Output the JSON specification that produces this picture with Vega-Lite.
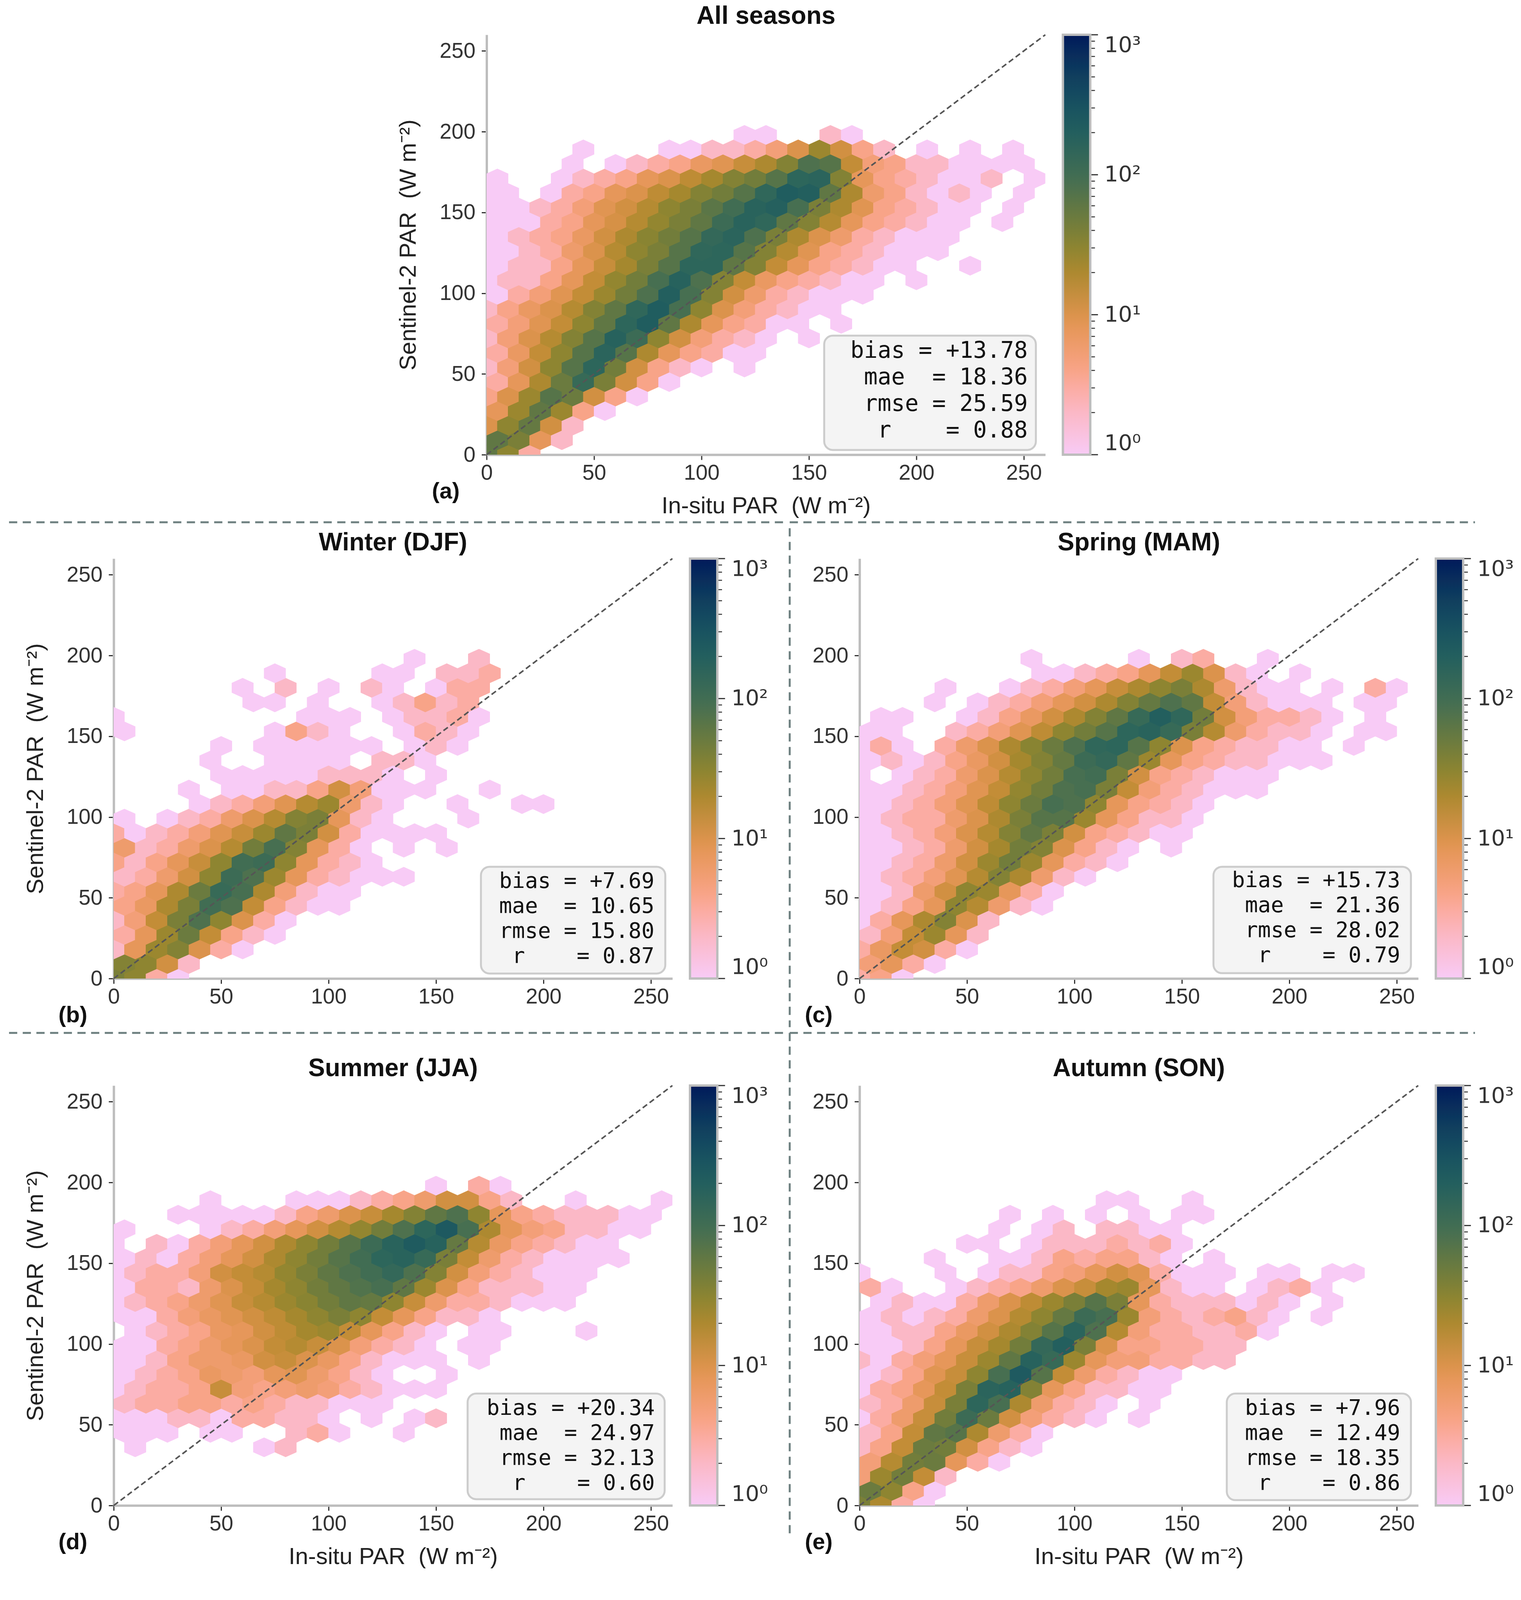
{
  "$schema": "https://vega.github.io/schema/vega-lite/v6.json",
  "background": "white",
  "padding": {"left": 20, "top": 9, "right": 0, "bottom": 0},
  "config": {
    "view": {"stroke": null},
    "font": "Liberation Sans",
    "range": {"ramp": ["#f8cbf6","#f9c2e2","#fbb8c6","#fbaea8","#f8a488","#f09d70","#e6975a","#d59145","#bf8c35","#a4882e","#8a8432","#737d3b","#5d7646","#486f51","#356958","#27625d","#1e5960","#174d60","#113f5e","#0b2d5c","#031a5a"]},
    "axis": {
      "domainColor": "#bdbdbd", "domainWidth": 6, "domainCap": "butt",
      "tickColor": "#333333", "tickWidth": 3, "tickSize": 13,
      "labelFont": "Liberation Sans", "labelFontSize": 55, "labelColor": "#333333",
      "labelFlush": false, "labelOverlap": false,
      "titleFont": "Liberation Sans", "titleFontSize": 60, "titleFontWeight": "normal", "titleColor": "#222222",
      "grid": false
    },
    "axisX": {"labelPadding": 7, "titlePadding": 28},
    "axisY": {"labelPadding": 16, "titlePadding": 48},
    "legend": {
      "gradientThickness": 70, "gradientLength": 1075,
      "gradientStrokeColor": "#bdbdbd", "gradientStrokeWidth": 6,
      "labelFont": "DejaVu Sans", "labelFontSize": 56, "labelColor": "#333333",
      "offset": 45, "padding": 0, "labelOverlap": false
    }
  },
  "datasets": {
    "cbmaj": [{"v":1,"y":0},{"v":10,"y":86.67},{"v":100,"y":173.33},{"v":1000,"y":260}],
    "cbmin": [
      {"v":2,"y":26.09},{"v":3,"y":41.35},{"v":4,"y":52.18},{"v":5,"y":60.58},{"v":6,"y":67.44},{"v":7,"y":73.24},{"v":8,"y":78.27},{"v":9,"y":82.7},
      {"v":20,"y":112.76},{"v":30,"y":128.02},{"v":40,"y":138.85},{"v":50,"y":147.25},{"v":60,"y":154.11},{"v":70,"y":159.91},{"v":80,"y":164.94},{"v":90,"y":169.37},
      {"v":200,"y":199.42},{"v":300,"y":214.68},{"v":400,"y":225.51},{"v":500,"y":233.91},{"v":600,"y":240.77},{"v":700,"y":246.57},{"v":800,"y":251.6},{"v":900,"y":256.03}
    ],
    "a": [
      {"x":0,"y":0,"n":60},{"x":10,"y":0,"n":30},{"x":20,"y":0,"n":3},
      {"x":5,"y":9,"n":60},{"x":15,"y":9,"n":40},{"x":25,"y":9,"n":8},{"x":35,"y":9,"n":2},
      {"x":0,"y":18,"n":10},{"x":10,"y":18,"n":30},{"x":20,"y":18,"n":55},{"x":30,"y":18,"n":12},{"x":40,"y":18,"n":2},
      {"x":5,"y":27,"n":8},{"x":15,"y":27,"n":25},{"x":25,"y":27,"n":60},{"x":35,"y":27,"n":25},{"x":45,"y":27,"n":4},{"x":55,"y":27,"n":1},
      {"x":0,"y":36,"n":4},{"x":10,"y":36,"n":10},{"x":20,"y":36,"n":25},{"x":30,"y":36,"n":70},{"x":40,"y":36,"n":50},{"x":50,"y":36,"n":12},{"x":60,"y":36,"n":4},{"x":70,"y":36,"n":1},
      {"x":5,"y":45,"n":3},{"x":15,"y":45,"n":8},{"x":25,"y":45,"n":20},{"x":35,"y":45,"n":50},{"x":45,"y":45,"n":120},{"x":55,"y":45,"n":40},{"x":65,"y":45,"n":12},{"x":75,"y":45,"n":4},{"x":85,"y":45,"n":1},
      {"x":0,"y":54,"n":2},{"x":10,"y":54,"n":5},{"x":20,"y":54,"n":12},{"x":30,"y":54,"n":30},{"x":40,"y":54,"n":70},{"x":50,"y":54,"n":150},{"x":60,"y":54,"n":45},{"x":70,"y":54,"n":12},{"x":80,"y":54,"n":4},{"x":90,"y":54,"n":2},{"x":100,"y":54,"n":1},{"x":120,"y":54,"n":1},
      {"x":5,"y":63,"n":3},{"x":15,"y":63,"n":7},{"x":25,"y":63,"n":15},{"x":35,"y":63,"n":30},{"x":45,"y":63,"n":70},{"x":55,"y":63,"n":160},{"x":65,"y":63,"n":70},{"x":75,"y":63,"n":20},{"x":85,"y":63,"n":8},{"x":95,"y":63,"n":4},{"x":105,"y":63,"n":3},{"x":115,"y":63,"n":1},{"x":125,"y":63,"n":1},
      {"x":0,"y":72,"n":2},{"x":10,"y":72,"n":5},{"x":20,"y":72,"n":10},{"x":30,"y":72,"n":18},{"x":40,"y":72,"n":35},{"x":50,"y":72,"n":70},{"x":60,"y":72,"n":180},{"x":70,"y":72,"n":110},{"x":80,"y":72,"n":30},{"x":90,"y":72,"n":12},{"x":100,"y":72,"n":5},{"x":110,"y":72,"n":3},{"x":120,"y":72,"n":2},{"x":130,"y":72,"n":1},{"x":150,"y":72,"n":1},
      {"x":5,"y":81,"n":3},{"x":15,"y":81,"n":5},{"x":25,"y":81,"n":9},{"x":35,"y":81,"n":15},{"x":45,"y":81,"n":30},{"x":55,"y":81,"n":60},{"x":65,"y":81,"n":150},{"x":75,"y":81,"n":220},{"x":85,"y":81,"n":60},{"x":95,"y":81,"n":20},{"x":105,"y":81,"n":8},{"x":115,"y":81,"n":4},{"x":125,"y":81,"n":3},{"x":135,"y":81,"n":1},{"x":145,"y":81,"n":1},{"x":165,"y":81,"n":1},
      {"x":0,"y":90,"n":2},{"x":10,"y":90,"n":4},{"x":20,"y":90,"n":7},{"x":30,"y":90,"n":10},{"x":40,"y":90,"n":18},{"x":50,"y":90,"n":35},{"x":60,"y":90,"n":60},{"x":70,"y":90,"n":140},{"x":80,"y":90,"n":220},{"x":90,"y":90,"n":90},{"x":100,"y":90,"n":30},{"x":110,"y":90,"n":10},{"x":120,"y":90,"n":5},{"x":130,"y":90,"n":3},{"x":140,"y":90,"n":2},{"x":150,"y":90,"n":1},{"x":160,"y":90,"n":1},
      {"x":5,"y":99,"n":1},{"x":15,"y":99,"n":3},{"x":25,"y":99,"n":5},{"x":35,"y":99,"n":9},{"x":45,"y":99,"n":15},{"x":55,"y":99,"n":25},{"x":65,"y":99,"n":45},{"x":75,"y":99,"n":80},{"x":85,"y":99,"n":200},{"x":95,"y":99,"n":90},{"x":105,"y":99,"n":35},{"x":115,"y":99,"n":12},{"x":125,"y":99,"n":6},{"x":135,"y":99,"n":3},{"x":145,"y":99,"n":2},{"x":155,"y":99,"n":1},{"x":165,"y":99,"n":1},{"x":175,"y":99,"n":1},
      {"x":0,"y":108,"n":1},{"x":10,"y":108,"n":2},{"x":20,"y":108,"n":2},{"x":30,"y":108,"n":4},{"x":40,"y":108,"n":8},{"x":50,"y":108,"n":15},{"x":60,"y":108,"n":28},{"x":70,"y":108,"n":45},{"x":80,"y":108,"n":90},{"x":90,"y":108,"n":180},{"x":100,"y":108,"n":80},{"x":110,"y":108,"n":35},{"x":120,"y":108,"n":15},{"x":130,"y":108,"n":7},{"x":140,"y":108,"n":4},{"x":150,"y":108,"n":3},{"x":160,"y":108,"n":2},{"x":170,"y":108,"n":1},{"x":180,"y":108,"n":1},{"x":200,"y":108,"n":1},
      {"x":5,"y":117,"n":1},{"x":15,"y":117,"n":2},{"x":25,"y":117,"n":2},{"x":35,"y":117,"n":4},{"x":45,"y":117,"n":8},{"x":55,"y":117,"n":14},{"x":65,"y":117,"n":22},{"x":75,"y":117,"n":40},{"x":85,"y":117,"n":70},{"x":95,"y":117,"n":150},{"x":105,"y":117,"n":150},{"x":115,"y":117,"n":60},{"x":125,"y":117,"n":35},{"x":135,"y":117,"n":15},{"x":145,"y":117,"n":8},{"x":155,"y":117,"n":4},{"x":165,"y":117,"n":3},{"x":175,"y":117,"n":2},{"x":185,"y":117,"n":1},{"x":195,"y":117,"n":1},{"x":225,"y":117,"n":1},
      {"x":0,"y":126,"n":1},{"x":10,"y":126,"n":1},{"x":20,"y":126,"n":2},{"x":30,"y":126,"n":3},{"x":40,"y":126,"n":6},{"x":50,"y":126,"n":10},{"x":60,"y":126,"n":18},{"x":70,"y":126,"n":30},{"x":80,"y":126,"n":40},{"x":90,"y":126,"n":70},{"x":100,"y":126,"n":140},{"x":110,"y":126,"n":150},{"x":120,"y":126,"n":70},{"x":130,"y":126,"n":35},{"x":140,"y":126,"n":18},{"x":150,"y":126,"n":9},{"x":160,"y":126,"n":4},{"x":170,"y":126,"n":3},{"x":180,"y":126,"n":2},{"x":190,"y":126,"n":1},{"x":200,"y":126,"n":1},{"x":210,"y":126,"n":1},
      {"x":5,"y":135,"n":1},{"x":15,"y":135,"n":2},{"x":25,"y":135,"n":3},{"x":35,"y":135,"n":4},{"x":45,"y":135,"n":7},{"x":55,"y":135,"n":12},{"x":65,"y":135,"n":20},{"x":75,"y":135,"n":32},{"x":85,"y":135,"n":45},{"x":95,"y":135,"n":70},{"x":105,"y":135,"n":130},{"x":115,"y":135,"n":160},{"x":125,"y":135,"n":80},{"x":135,"y":135,"n":40},{"x":145,"y":135,"n":20},{"x":155,"y":135,"n":10},{"x":165,"y":135,"n":6},{"x":175,"y":135,"n":3},{"x":185,"y":135,"n":2},{"x":195,"y":135,"n":1},{"x":205,"y":135,"n":1},{"x":215,"y":135,"n":1},
      {"x":0,"y":144,"n":1},{"x":10,"y":144,"n":1},{"x":20,"y":144,"n":1},{"x":30,"y":144,"n":3},{"x":40,"y":144,"n":4},{"x":50,"y":144,"n":8},{"x":60,"y":144,"n":11},{"x":70,"y":144,"n":18},{"x":80,"y":144,"n":28},{"x":90,"y":144,"n":40},{"x":100,"y":144,"n":60},{"x":110,"y":144,"n":110},{"x":120,"y":144,"n":170},{"x":130,"y":144,"n":140},{"x":140,"y":144,"n":60},{"x":150,"y":144,"n":35},{"x":160,"y":144,"n":18},{"x":170,"y":144,"n":8},{"x":180,"y":144,"n":4},{"x":190,"y":144,"n":3},{"x":200,"y":144,"n":2},{"x":210,"y":144,"n":1},{"x":220,"y":144,"n":1},{"x":240,"y":144,"n":1},
      {"x":5,"y":153,"n":1},{"x":15,"y":153,"n":1},{"x":25,"y":153,"n":2},{"x":35,"y":153,"n":3},{"x":45,"y":153,"n":5},{"x":55,"y":153,"n":9},{"x":65,"y":153,"n":12},{"x":75,"y":153,"n":18},{"x":85,"y":153,"n":30},{"x":95,"y":153,"n":40},{"x":105,"y":153,"n":65},{"x":115,"y":153,"n":100},{"x":125,"y":153,"n":170},{"x":135,"y":153,"n":190},{"x":145,"y":153,"n":90},{"x":155,"y":153,"n":40},{"x":165,"y":153,"n":20},{"x":175,"y":153,"n":9},{"x":185,"y":153,"n":4},{"x":195,"y":153,"n":3},{"x":205,"y":153,"n":2},{"x":215,"y":153,"n":1},{"x":225,"y":153,"n":1},{"x":245,"y":153,"n":1},
      {"x":0,"y":162,"n":1},{"x":10,"y":162,"n":1},{"x":30,"y":162,"n":1},{"x":40,"y":162,"n":3},{"x":50,"y":162,"n":4},{"x":60,"y":162,"n":8},{"x":70,"y":162,"n":10},{"x":80,"y":162,"n":16},{"x":90,"y":162,"n":22},{"x":100,"y":162,"n":35},{"x":110,"y":162,"n":45},{"x":120,"y":162,"n":70},{"x":130,"y":162,"n":140},{"x":140,"y":162,"n":220},{"x":150,"y":162,"n":200},{"x":160,"y":162,"n":60},{"x":170,"y":162,"n":20},{"x":180,"y":162,"n":6},{"x":190,"y":162,"n":4},{"x":200,"y":162,"n":2},{"x":210,"y":162,"n":1},{"x":220,"y":162,"n":2},{"x":230,"y":162,"n":1},{"x":250,"y":162,"n":1},
      {"x":5,"y":171,"n":1},{"x":35,"y":171,"n":1},{"x":45,"y":171,"n":2},{"x":55,"y":171,"n":3},{"x":65,"y":171,"n":4},{"x":75,"y":171,"n":8},{"x":85,"y":171,"n":10},{"x":95,"y":171,"n":16},{"x":105,"y":171,"n":22},{"x":115,"y":171,"n":35},{"x":125,"y":171,"n":45},{"x":135,"y":171,"n":70},{"x":145,"y":171,"n":150},{"x":155,"y":171,"n":160},{"x":165,"y":171,"n":35},{"x":175,"y":171,"n":8},{"x":185,"y":171,"n":4},{"x":195,"y":171,"n":3},{"x":205,"y":171,"n":2},{"x":215,"y":171,"n":1},{"x":225,"y":171,"n":1},{"x":235,"y":171,"n":2},{"x":255,"y":171,"n":1},
      {"x":40,"y":180,"n":1},{"x":60,"y":180,"n":1},{"x":70,"y":180,"n":2},{"x":80,"y":180,"n":3},{"x":90,"y":180,"n":4},{"x":100,"y":180,"n":7},{"x":110,"y":180,"n":9},{"x":120,"y":180,"n":14},{"x":130,"y":180,"n":20},{"x":140,"y":180,"n":35},{"x":150,"y":180,"n":80},{"x":160,"y":180,"n":70},{"x":170,"y":180,"n":15},{"x":180,"y":180,"n":5},{"x":190,"y":180,"n":4},{"x":200,"y":180,"n":2},{"x":210,"y":180,"n":2},{"x":220,"y":180,"n":1},{"x":230,"y":180,"n":1},{"x":240,"y":180,"n":1},{"x":250,"y":180,"n":1},
      {"x":45,"y":189,"n":1},{"x":85,"y":189,"n":1},{"x":95,"y":189,"n":1},{"x":105,"y":189,"n":2},{"x":115,"y":189,"n":2},{"x":125,"y":189,"n":3},{"x":135,"y":189,"n":5},{"x":145,"y":189,"n":10},{"x":155,"y":189,"n":25},{"x":165,"y":189,"n":12},{"x":175,"y":189,"n":4},{"x":185,"y":189,"n":2},{"x":205,"y":189,"n":1},{"x":225,"y":189,"n":1},{"x":245,"y":189,"n":1},
      {"x":120,"y":198,"n":1},{"x":130,"y":198,"n":1},{"x":160,"y":198,"n":2},{"x":170,"y":198,"n":1}
    ],
    "b": [
      {"x":0,"y":0,"n":40},{"x":10,"y":0,"n":30},{"x":20,"y":0,"n":3},{"x":30,"y":0,"n":1},
      {"x":5,"y":9,"n":35},{"x":15,"y":9,"n":30},{"x":25,"y":9,"n":12},{"x":35,"y":9,"n":2},
      {"x":0,"y":18,"n":2},{"x":10,"y":18,"n":8},{"x":20,"y":18,"n":25},{"x":30,"y":18,"n":35},{"x":40,"y":18,"n":10},{"x":50,"y":18,"n":3},{"x":60,"y":18,"n":1},
      {"x":5,"y":27,"n":3},{"x":15,"y":27,"n":8},{"x":25,"y":27,"n":25},{"x":35,"y":27,"n":50},{"x":45,"y":27,"n":15},{"x":55,"y":27,"n":4},{"x":65,"y":27,"n":2},{"x":75,"y":27,"n":1},
      {"x":0,"y":36,"n":2},{"x":10,"y":36,"n":5},{"x":20,"y":36,"n":15},{"x":30,"y":36,"n":40},{"x":40,"y":36,"n":80},{"x":50,"y":36,"n":30},{"x":60,"y":36,"n":10},{"x":70,"y":36,"n":3},{"x":80,"y":36,"n":1},
      {"x":5,"y":45,"n":4},{"x":15,"y":45,"n":7},{"x":25,"y":45,"n":20},{"x":35,"y":45,"n":40},{"x":45,"y":45,"n":100},{"x":55,"y":45,"n":80},{"x":65,"y":45,"n":15},{"x":75,"y":45,"n":4},{"x":85,"y":45,"n":2},{"x":95,"y":45,"n":1},{"x":105,"y":45,"n":1},
      {"x":0,"y":54,"n":3},{"x":10,"y":54,"n":4},{"x":20,"y":54,"n":8},{"x":30,"y":54,"n":20},{"x":40,"y":54,"n":50},{"x":50,"y":54,"n":120},{"x":60,"y":54,"n":90},{"x":70,"y":54,"n":20},{"x":80,"y":54,"n":5},{"x":90,"y":54,"n":2},{"x":100,"y":54,"n":1},{"x":110,"y":54,"n":1},
      {"x":5,"y":63,"n":2},{"x":15,"y":63,"n":3},{"x":25,"y":63,"n":6},{"x":35,"y":63,"n":12},{"x":45,"y":63,"n":30},{"x":55,"y":63,"n":110},{"x":65,"y":63,"n":80},{"x":75,"y":63,"n":25},{"x":85,"y":63,"n":8},{"x":95,"y":63,"n":3},{"x":105,"y":63,"n":2},{"x":115,"y":63,"n":1},{"x":125,"y":63,"n":1},{"x":135,"y":63,"n":1},
      {"x":0,"y":72,"n":4},{"x":10,"y":72,"n":2},{"x":20,"y":72,"n":4},{"x":30,"y":72,"n":8},{"x":40,"y":72,"n":14},{"x":50,"y":72,"n":30},{"x":60,"y":72,"n":100},{"x":70,"y":72,"n":110},{"x":80,"y":72,"n":30},{"x":90,"y":72,"n":8},{"x":100,"y":72,"n":3},{"x":110,"y":72,"n":2},{"x":120,"y":72,"n":1},
      {"x":5,"y":81,"n":6},{"x":15,"y":81,"n":2},{"x":25,"y":81,"n":3},{"x":35,"y":81,"n":6},{"x":45,"y":81,"n":10},{"x":55,"y":81,"n":18},{"x":65,"y":81,"n":45},{"x":75,"y":81,"n":90},{"x":85,"y":81,"n":35},{"x":95,"y":81,"n":8},{"x":105,"y":81,"n":3},{"x":115,"y":81,"n":1},{"x":135,"y":81,"n":1},{"x":155,"y":81,"n":1},
      {"x":0,"y":90,"n":3},{"x":10,"y":90,"n":1},{"x":20,"y":90,"n":2},{"x":30,"y":90,"n":3},{"x":40,"y":90,"n":5},{"x":50,"y":90,"n":9},{"x":60,"y":90,"n":14},{"x":70,"y":90,"n":25},{"x":80,"y":90,"n":60},{"x":90,"y":90,"n":40},{"x":100,"y":90,"n":12},{"x":110,"y":90,"n":3},{"x":120,"y":90,"n":1},{"x":130,"y":90,"n":1},{"x":140,"y":90,"n":1},{"x":150,"y":90,"n":1},
      {"x":5,"y":99,"n":1},{"x":25,"y":99,"n":1},{"x":35,"y":99,"n":2},{"x":45,"y":99,"n":3},{"x":55,"y":99,"n":6},{"x":65,"y":99,"n":10},{"x":75,"y":99,"n":18},{"x":85,"y":99,"n":35},{"x":95,"y":99,"n":40},{"x":105,"y":99,"n":8},{"x":115,"y":99,"n":2},{"x":125,"y":99,"n":1},{"x":165,"y":99,"n":1},
      {"x":40,"y":108,"n":1},{"x":50,"y":108,"n":2},{"x":60,"y":108,"n":3},{"x":70,"y":108,"n":5},{"x":80,"y":108,"n":9},{"x":90,"y":108,"n":18},{"x":100,"y":108,"n":25},{"x":110,"y":108,"n":6},{"x":120,"y":108,"n":2},{"x":130,"y":108,"n":1},{"x":160,"y":108,"n":1},{"x":190,"y":108,"n":1},{"x":200,"y":108,"n":1},
      {"x":35,"y":117,"n":1},{"x":55,"y":117,"n":1},{"x":65,"y":117,"n":1},{"x":75,"y":117,"n":2},{"x":85,"y":117,"n":2},{"x":95,"y":117,"n":4},{"x":105,"y":117,"n":12},{"x":115,"y":117,"n":5},{"x":125,"y":117,"n":1},{"x":135,"y":117,"n":1},{"x":145,"y":117,"n":1},{"x":175,"y":117,"n":1},
      {"x":50,"y":126,"n":1},{"x":60,"y":126,"n":1},{"x":70,"y":126,"n":1},{"x":80,"y":126,"n":1},{"x":90,"y":126,"n":1},{"x":100,"y":126,"n":2},{"x":110,"y":126,"n":2},{"x":120,"y":126,"n":2},{"x":130,"y":126,"n":1},{"x":150,"y":126,"n":1},
      {"x":45,"y":135,"n":1},{"x":75,"y":135,"n":1},{"x":85,"y":135,"n":1},{"x":95,"y":135,"n":1},{"x":105,"y":135,"n":1},{"x":125,"y":135,"n":2},{"x":135,"y":135,"n":2},{"x":145,"y":135,"n":1},
      {"x":50,"y":144,"n":1},{"x":70,"y":144,"n":1},{"x":80,"y":144,"n":1},{"x":90,"y":144,"n":1},{"x":100,"y":144,"n":1},{"x":110,"y":144,"n":1},{"x":120,"y":144,"n":1},{"x":140,"y":144,"n":1},{"x":150,"y":144,"n":2},{"x":160,"y":144,"n":1},
      {"x":5,"y":153,"n":1},{"x":75,"y":153,"n":1},{"x":85,"y":153,"n":4},{"x":95,"y":153,"n":2},{"x":105,"y":153,"n":1},{"x":135,"y":153,"n":1},{"x":145,"y":153,"n":3},{"x":155,"y":153,"n":2},{"x":165,"y":153,"n":1},
      {"x":0,"y":162,"n":1},{"x":90,"y":162,"n":1},{"x":100,"y":162,"n":1},{"x":110,"y":162,"n":1},{"x":130,"y":162,"n":1},{"x":140,"y":162,"n":2},{"x":150,"y":162,"n":2},{"x":160,"y":162,"n":3},{"x":170,"y":162,"n":1},
      {"x":65,"y":171,"n":1},{"x":75,"y":171,"n":1},{"x":95,"y":171,"n":1},{"x":125,"y":171,"n":1},{"x":135,"y":171,"n":2},{"x":145,"y":171,"n":4},{"x":155,"y":171,"n":2},{"x":165,"y":171,"n":3},
      {"x":60,"y":180,"n":1},{"x":80,"y":180,"n":2},{"x":100,"y":180,"n":1},{"x":120,"y":180,"n":2},{"x":130,"y":180,"n":1},{"x":150,"y":180,"n":1},{"x":160,"y":180,"n":3},{"x":170,"y":180,"n":3},
      {"x":75,"y":189,"n":1},{"x":125,"y":189,"n":1},{"x":135,"y":189,"n":1},{"x":155,"y":189,"n":2},{"x":165,"y":189,"n":2},{"x":175,"y":189,"n":3},
      {"x":140,"y":198,"n":1},{"x":170,"y":198,"n":2}
    ],
    "c": [
      {"x":0,"y":0,"n":3},{"x":10,"y":0,"n":4},{"x":20,"y":0,"n":1},
      {"x":5,"y":9,"n":5},{"x":15,"y":9,"n":8},{"x":25,"y":9,"n":3},{"x":35,"y":9,"n":1},
      {"x":0,"y":18,"n":3},{"x":10,"y":18,"n":7},{"x":20,"y":18,"n":15},{"x":30,"y":18,"n":12},{"x":40,"y":18,"n":3},{"x":50,"y":18,"n":1},
      {"x":5,"y":27,"n":2},{"x":15,"y":27,"n":5},{"x":25,"y":27,"n":15},{"x":35,"y":27,"n":25},{"x":45,"y":27,"n":8},{"x":55,"y":27,"n":2},
      {"x":0,"y":36,"n":1},{"x":10,"y":36,"n":3},{"x":20,"y":36,"n":8},{"x":30,"y":36,"n":20},{"x":40,"y":36,"n":35},{"x":50,"y":36,"n":10},{"x":60,"y":36,"n":2},
      {"x":5,"y":45,"n":1},{"x":15,"y":45,"n":2},{"x":25,"y":45,"n":4},{"x":35,"y":45,"n":8},{"x":45,"y":45,"n":30},{"x":55,"y":45,"n":18},{"x":65,"y":45,"n":6},{"x":75,"y":45,"n":2},{"x":85,"y":45,"n":1},
      {"x":0,"y":54,"n":1},{"x":10,"y":54,"n":1},{"x":20,"y":54,"n":2},{"x":30,"y":54,"n":6},{"x":40,"y":54,"n":12},{"x":50,"y":54,"n":30},{"x":60,"y":54,"n":25},{"x":70,"y":54,"n":8},{"x":80,"y":54,"n":3},{"x":90,"y":54,"n":1},
      {"x":5,"y":63,"n":1},{"x":15,"y":63,"n":2},{"x":25,"y":63,"n":3},{"x":35,"y":63,"n":5},{"x":45,"y":63,"n":9},{"x":55,"y":63,"n":18},{"x":65,"y":63,"n":35},{"x":75,"y":63,"n":20},{"x":85,"y":63,"n":6},{"x":95,"y":63,"n":2},{"x":105,"y":63,"n":1},
      {"x":0,"y":72,"n":1},{"x":10,"y":72,"n":1},{"x":20,"y":72,"n":2},{"x":30,"y":72,"n":3},{"x":40,"y":72,"n":6},{"x":50,"y":72,"n":12},{"x":60,"y":72,"n":25},{"x":70,"y":72,"n":45},{"x":80,"y":72,"n":25},{"x":90,"y":72,"n":8},{"x":100,"y":72,"n":3},{"x":110,"y":72,"n":2},{"x":120,"y":72,"n":1},
      {"x":5,"y":81,"n":1},{"x":15,"y":81,"n":1},{"x":25,"y":81,"n":2},{"x":35,"y":81,"n":3},{"x":45,"y":81,"n":6},{"x":55,"y":81,"n":12},{"x":65,"y":81,"n":22},{"x":75,"y":81,"n":45},{"x":85,"y":81,"n":35},{"x":95,"y":81,"n":10},{"x":105,"y":81,"n":4},{"x":115,"y":81,"n":2},{"x":125,"y":81,"n":1},{"x":145,"y":81,"n":1},
      {"x":0,"y":90,"n":1},{"x":10,"y":90,"n":1},{"x":20,"y":90,"n":2},{"x":30,"y":90,"n":3},{"x":40,"y":90,"n":5},{"x":50,"y":90,"n":10},{"x":60,"y":90,"n":18},{"x":70,"y":90,"n":35},{"x":80,"y":90,"n":60},{"x":90,"y":90,"n":40},{"x":100,"y":90,"n":12},{"x":110,"y":90,"n":4},{"x":120,"y":90,"n":3},{"x":130,"y":90,"n":2},{"x":140,"y":90,"n":1},{"x":150,"y":90,"n":1},
      {"x":5,"y":99,"n":1},{"x":15,"y":99,"n":2},{"x":25,"y":99,"n":3},{"x":35,"y":99,"n":3},{"x":45,"y":99,"n":6},{"x":55,"y":99,"n":10},{"x":65,"y":99,"n":20},{"x":75,"y":99,"n":40},{"x":85,"y":99,"n":70},{"x":95,"y":99,"n":70},{"x":105,"y":99,"n":25},{"x":115,"y":99,"n":8},{"x":125,"y":99,"n":4},{"x":135,"y":99,"n":2},{"x":145,"y":99,"n":2},{"x":155,"y":99,"n":1},
      {"x":0,"y":108,"n":1},{"x":10,"y":108,"n":1},{"x":20,"y":108,"n":2},{"x":30,"y":108,"n":3},{"x":40,"y":108,"n":5},{"x":50,"y":108,"n":9},{"x":60,"y":108,"n":16},{"x":70,"y":108,"n":30},{"x":80,"y":108,"n":50},{"x":90,"y":108,"n":90},{"x":100,"y":108,"n":80},{"x":110,"y":108,"n":30},{"x":120,"y":108,"n":8},{"x":130,"y":108,"n":4},{"x":140,"y":108,"n":3},{"x":150,"y":108,"n":2},{"x":160,"y":108,"n":1},
      {"x":5,"y":117,"n":1},{"x":15,"y":117,"n":1},{"x":25,"y":117,"n":2},{"x":35,"y":117,"n":3},{"x":45,"y":117,"n":5},{"x":55,"y":117,"n":9},{"x":65,"y":117,"n":15},{"x":75,"y":117,"n":28},{"x":85,"y":117,"n":45},{"x":95,"y":117,"n":80},{"x":105,"y":117,"n":90},{"x":115,"y":117,"n":40},{"x":125,"y":117,"n":15},{"x":135,"y":117,"n":5},{"x":145,"y":117,"n":3},{"x":155,"y":117,"n":2},{"x":165,"y":117,"n":1},{"x":175,"y":117,"n":1},{"x":185,"y":117,"n":1},
      {"x":0,"y":126,"n":1},{"x":20,"y":126,"n":1},{"x":30,"y":126,"n":2},{"x":40,"y":126,"n":3},{"x":50,"y":126,"n":6},{"x":60,"y":126,"n":10},{"x":70,"y":126,"n":18},{"x":80,"y":126,"n":30},{"x":90,"y":126,"n":45},{"x":100,"y":126,"n":90},{"x":110,"y":126,"n":100},{"x":120,"y":126,"n":40},{"x":130,"y":126,"n":12},{"x":140,"y":126,"n":4},{"x":150,"y":126,"n":3},{"x":160,"y":126,"n":2},{"x":170,"y":126,"n":1},{"x":180,"y":126,"n":1},{"x":190,"y":126,"n":1},
      {"x":5,"y":135,"n":1},{"x":15,"y":135,"n":2},{"x":25,"y":135,"n":1},{"x":35,"y":135,"n":2},{"x":45,"y":135,"n":4},{"x":55,"y":135,"n":7},{"x":65,"y":135,"n":12},{"x":75,"y":135,"n":22},{"x":85,"y":135,"n":35},{"x":95,"y":135,"n":55},{"x":105,"y":135,"n":110},{"x":115,"y":135,"n":130},{"x":125,"y":135,"n":60},{"x":135,"y":135,"n":25},{"x":145,"y":135,"n":8},{"x":155,"y":135,"n":4},{"x":165,"y":135,"n":3},{"x":175,"y":135,"n":2},{"x":185,"y":135,"n":2},{"x":195,"y":135,"n":1},{"x":205,"y":135,"n":1},{"x":215,"y":135,"n":1},
      {"x":0,"y":144,"n":1},{"x":10,"y":144,"n":3},{"x":20,"y":144,"n":1},{"x":40,"y":144,"n":3},{"x":50,"y":144,"n":6},{"x":60,"y":144,"n":10},{"x":70,"y":144,"n":20},{"x":80,"y":144,"n":32},{"x":90,"y":144,"n":50},{"x":100,"y":144,"n":80},{"x":110,"y":144,"n":140},{"x":120,"y":144,"n":150},{"x":130,"y":144,"n":70},{"x":140,"y":144,"n":30},{"x":150,"y":144,"n":10},{"x":160,"y":144,"n":4},{"x":170,"y":144,"n":3},{"x":180,"y":144,"n":2},{"x":190,"y":144,"n":2},{"x":200,"y":144,"n":1},{"x":210,"y":144,"n":1},{"x":230,"y":144,"n":1},
      {"x":5,"y":153,"n":1},{"x":15,"y":153,"n":1},{"x":45,"y":153,"n":2},{"x":55,"y":153,"n":3},{"x":65,"y":153,"n":5},{"x":75,"y":153,"n":9},{"x":85,"y":153,"n":16},{"x":95,"y":153,"n":30},{"x":105,"y":153,"n":45},{"x":115,"y":153,"n":70},{"x":125,"y":153,"n":150},{"x":135,"y":153,"n":170},{"x":145,"y":153,"n":120},{"x":155,"y":153,"n":40},{"x":165,"y":153,"n":18},{"x":175,"y":153,"n":6},{"x":185,"y":153,"n":3},{"x":195,"y":153,"n":2},{"x":205,"y":153,"n":2},{"x":215,"y":153,"n":1},{"x":235,"y":153,"n":1},{"x":245,"y":153,"n":1},
      {"x":10,"y":162,"n":1},{"x":20,"y":162,"n":1},{"x":50,"y":162,"n":1},{"x":60,"y":162,"n":2},{"x":70,"y":162,"n":4},{"x":80,"y":162,"n":7},{"x":90,"y":162,"n":12},{"x":100,"y":162,"n":20},{"x":110,"y":162,"n":35},{"x":120,"y":162,"n":60},{"x":130,"y":162,"n":120},{"x":140,"y":162,"n":200},{"x":150,"y":162,"n":140},{"x":160,"y":162,"n":45},{"x":170,"y":162,"n":12},{"x":180,"y":162,"n":5},{"x":190,"y":162,"n":3},{"x":200,"y":162,"n":3},{"x":210,"y":162,"n":2},{"x":220,"y":162,"n":1},{"x":240,"y":162,"n":1},
      {"x":35,"y":171,"n":1},{"x":55,"y":171,"n":1},{"x":65,"y":171,"n":2},{"x":75,"y":171,"n":3},{"x":85,"y":171,"n":5},{"x":95,"y":171,"n":8},{"x":105,"y":171,"n":12},{"x":115,"y":171,"n":20},{"x":125,"y":171,"n":35},{"x":135,"y":171,"n":55},{"x":145,"y":171,"n":80},{"x":155,"y":171,"n":60},{"x":165,"y":171,"n":15},{"x":175,"y":171,"n":5},{"x":185,"y":171,"n":2},{"x":195,"y":171,"n":1},{"x":205,"y":171,"n":1},{"x":215,"y":171,"n":1},{"x":235,"y":171,"n":1},{"x":245,"y":171,"n":1},
      {"x":40,"y":180,"n":1},{"x":70,"y":180,"n":1},{"x":80,"y":180,"n":2},{"x":90,"y":180,"n":3},{"x":100,"y":180,"n":5},{"x":110,"y":180,"n":8},{"x":120,"y":180,"n":14},{"x":130,"y":180,"n":20},{"x":140,"y":180,"n":30},{"x":150,"y":180,"n":40},{"x":160,"y":180,"n":20},{"x":170,"y":180,"n":6},{"x":180,"y":180,"n":2},{"x":190,"y":180,"n":1},{"x":200,"y":180,"n":1},{"x":220,"y":180,"n":1},{"x":240,"y":180,"n":3},{"x":250,"y":180,"n":1},
      {"x":85,"y":189,"n":1},{"x":95,"y":189,"n":1},{"x":105,"y":189,"n":2},{"x":115,"y":189,"n":3},{"x":125,"y":189,"n":4},{"x":135,"y":189,"n":8},{"x":145,"y":189,"n":15},{"x":155,"y":189,"n":25},{"x":165,"y":189,"n":10},{"x":175,"y":189,"n":2},{"x":185,"y":189,"n":1},{"x":205,"y":189,"n":1},
      {"x":80,"y":198,"n":1},{"x":130,"y":198,"n":1},{"x":150,"y":198,"n":2},{"x":160,"y":198,"n":3},{"x":190,"y":198,"n":1}
    ],
    "d": [
      {"x":10,"y":36,"n":1},{"x":70,"y":36,"n":1},{"x":80,"y":36,"n":2},
      {"x":5,"y":45,"n":1},{"x":15,"y":45,"n":1},{"x":25,"y":45,"n":1},{"x":45,"y":45,"n":1},{"x":55,"y":45,"n":1},{"x":85,"y":45,"n":2},{"x":95,"y":45,"n":3},{"x":105,"y":45,"n":1},{"x":135,"y":45,"n":1},
      {"x":0,"y":54,"n":1},{"x":10,"y":54,"n":1},{"x":20,"y":54,"n":1},{"x":30,"y":54,"n":2},{"x":40,"y":54,"n":2},{"x":50,"y":54,"n":1},{"x":60,"y":54,"n":3},{"x":70,"y":54,"n":3},{"x":80,"y":54,"n":2},{"x":90,"y":54,"n":2},{"x":100,"y":54,"n":1},{"x":120,"y":54,"n":1},{"x":140,"y":54,"n":1},{"x":150,"y":54,"n":2},
      {"x":5,"y":63,"n":2},{"x":15,"y":63,"n":3},{"x":25,"y":63,"n":3},{"x":35,"y":63,"n":4},{"x":45,"y":63,"n":4},{"x":55,"y":63,"n":3},{"x":65,"y":63,"n":4},{"x":75,"y":63,"n":3},{"x":85,"y":63,"n":2},{"x":95,"y":63,"n":2},{"x":105,"y":63,"n":1},{"x":115,"y":63,"n":1},{"x":125,"y":63,"n":1},
      {"x":0,"y":72,"n":1},{"x":10,"y":72,"n":2},{"x":20,"y":72,"n":3},{"x":30,"y":72,"n":3},{"x":40,"y":72,"n":4},{"x":50,"y":72,"n":14},{"x":60,"y":72,"n":5},{"x":70,"y":72,"n":4},{"x":80,"y":72,"n":5},{"x":90,"y":72,"n":6},{"x":100,"y":72,"n":5},{"x":110,"y":72,"n":3},{"x":120,"y":72,"n":2},{"x":130,"y":72,"n":1},{"x":140,"y":72,"n":1},{"x":150,"y":72,"n":1},
      {"x":5,"y":81,"n":1},{"x":15,"y":81,"n":2},{"x":25,"y":81,"n":3},{"x":35,"y":81,"n":4},{"x":45,"y":81,"n":7},{"x":55,"y":81,"n":6},{"x":65,"y":81,"n":5},{"x":75,"y":81,"n":8},{"x":85,"y":81,"n":9},{"x":95,"y":81,"n":6},{"x":105,"y":81,"n":4},{"x":115,"y":81,"n":2},{"x":125,"y":81,"n":1},{"x":155,"y":81,"n":1},
      {"x":0,"y":90,"n":1},{"x":10,"y":90,"n":1},{"x":20,"y":90,"n":2},{"x":30,"y":90,"n":4},{"x":40,"y":90,"n":6},{"x":50,"y":90,"n":6},{"x":60,"y":90,"n":7},{"x":70,"y":90,"n":12},{"x":80,"y":90,"n":14},{"x":90,"y":90,"n":10},{"x":100,"y":90,"n":7},{"x":110,"y":90,"n":4},{"x":120,"y":90,"n":2},{"x":130,"y":90,"n":1},{"x":140,"y":90,"n":1},{"x":150,"y":90,"n":1},{"x":170,"y":90,"n":1},
      {"x":5,"y":99,"n":1},{"x":15,"y":99,"n":1},{"x":25,"y":99,"n":3},{"x":35,"y":99,"n":4},{"x":45,"y":99,"n":6},{"x":55,"y":99,"n":8},{"x":65,"y":99,"n":10},{"x":75,"y":99,"n":15},{"x":85,"y":99,"n":18},{"x":95,"y":99,"n":14},{"x":105,"y":99,"n":10},{"x":115,"y":99,"n":5},{"x":125,"y":99,"n":3},{"x":135,"y":99,"n":2},{"x":145,"y":99,"n":1},{"x":165,"y":99,"n":1},{"x":175,"y":99,"n":1},
      {"x":10,"y":108,"n":1},{"x":20,"y":108,"n":2},{"x":30,"y":108,"n":3},{"x":40,"y":108,"n":4},{"x":50,"y":108,"n":7},{"x":60,"y":108,"n":8},{"x":70,"y":108,"n":12},{"x":80,"y":108,"n":16},{"x":90,"y":108,"n":22},{"x":100,"y":108,"n":25},{"x":110,"y":108,"n":15},{"x":120,"y":108,"n":8},{"x":130,"y":108,"n":4},{"x":140,"y":108,"n":2},{"x":150,"y":108,"n":1},{"x":170,"y":108,"n":1},{"x":180,"y":108,"n":1},{"x":220,"y":108,"n":1},
      {"x":5,"y":117,"n":1},{"x":15,"y":117,"n":1},{"x":25,"y":117,"n":3},{"x":35,"y":117,"n":5},{"x":45,"y":117,"n":7},{"x":55,"y":117,"n":9},{"x":65,"y":117,"n":12},{"x":75,"y":117,"n":16},{"x":85,"y":117,"n":22},{"x":95,"y":117,"n":30},{"x":105,"y":117,"n":40},{"x":115,"y":117,"n":30},{"x":125,"y":117,"n":15},{"x":135,"y":117,"n":8},{"x":145,"y":117,"n":4},{"x":155,"y":117,"n":2},{"x":165,"y":117,"n":2},{"x":175,"y":117,"n":1},
      {"x":0,"y":126,"n":1},{"x":10,"y":126,"n":2},{"x":20,"y":126,"n":3},{"x":30,"y":126,"n":4},{"x":40,"y":126,"n":6},{"x":50,"y":126,"n":9},{"x":60,"y":126,"n":14},{"x":70,"y":126,"n":18},{"x":80,"y":126,"n":25},{"x":90,"y":126,"n":32},{"x":100,"y":126,"n":45},{"x":110,"y":126,"n":60},{"x":120,"y":126,"n":55},{"x":130,"y":126,"n":30},{"x":140,"y":126,"n":14},{"x":150,"y":126,"n":6},{"x":160,"y":126,"n":3},{"x":170,"y":126,"n":3},{"x":180,"y":126,"n":2},{"x":190,"y":126,"n":1},{"x":200,"y":126,"n":1},{"x":210,"y":126,"n":1},
      {"x":5,"y":135,"n":1},{"x":15,"y":135,"n":3},{"x":25,"y":135,"n":3},{"x":35,"y":135,"n":2},{"x":45,"y":135,"n":6},{"x":55,"y":135,"n":10},{"x":65,"y":135,"n":15},{"x":75,"y":135,"n":22},{"x":85,"y":135,"n":30},{"x":95,"y":135,"n":45},{"x":105,"y":135,"n":60},{"x":115,"y":135,"n":75},{"x":125,"y":135,"n":90},{"x":135,"y":135,"n":60},{"x":145,"y":135,"n":25},{"x":155,"y":135,"n":10},{"x":165,"y":135,"n":4},{"x":175,"y":135,"n":2},{"x":185,"y":135,"n":2},{"x":195,"y":135,"n":2},{"x":205,"y":135,"n":1},{"x":215,"y":135,"n":1},
      {"x":0,"y":144,"n":1},{"x":10,"y":144,"n":2},{"x":20,"y":144,"n":3},{"x":30,"y":144,"n":3},{"x":40,"y":144,"n":5},{"x":50,"y":144,"n":12},{"x":60,"y":144,"n":15},{"x":70,"y":144,"n":18},{"x":80,"y":144,"n":28},{"x":90,"y":144,"n":40},{"x":100,"y":144,"n":60},{"x":110,"y":144,"n":80},{"x":120,"y":144,"n":100},{"x":130,"y":144,"n":130},{"x":140,"y":144,"n":80},{"x":150,"y":144,"n":35},{"x":160,"y":144,"n":12},{"x":170,"y":144,"n":5},{"x":180,"y":144,"n":3},{"x":190,"y":144,"n":2},{"x":200,"y":144,"n":1},{"x":210,"y":144,"n":1},{"x":220,"y":144,"n":1},
      {"x":5,"y":153,"n":1},{"x":15,"y":153,"n":2},{"x":25,"y":153,"n":1},{"x":35,"y":153,"n":3},{"x":45,"y":153,"n":5},{"x":55,"y":153,"n":8},{"x":65,"y":153,"n":12},{"x":75,"y":153,"n":20},{"x":85,"y":153,"n":30},{"x":95,"y":153,"n":45},{"x":105,"y":153,"n":70},{"x":115,"y":153,"n":100},{"x":125,"y":153,"n":150},{"x":135,"y":153,"n":170},{"x":145,"y":153,"n":120},{"x":155,"y":153,"n":40},{"x":165,"y":153,"n":15},{"x":175,"y":153,"n":6},{"x":185,"y":153,"n":3},{"x":195,"y":153,"n":2},{"x":205,"y":153,"n":1},{"x":215,"y":153,"n":1},{"x":225,"y":153,"n":1},{"x":235,"y":153,"n":1},
      {"x":0,"y":162,"n":1},{"x":20,"y":162,"n":2},{"x":30,"y":162,"n":1},{"x":40,"y":162,"n":3},{"x":50,"y":162,"n":5},{"x":60,"y":162,"n":8},{"x":70,"y":162,"n":12},{"x":80,"y":162,"n":20},{"x":90,"y":162,"n":30},{"x":100,"y":162,"n":45},{"x":110,"y":162,"n":70},{"x":120,"y":162,"n":110},{"x":130,"y":162,"n":170},{"x":140,"y":162,"n":230},{"x":150,"y":162,"n":180},{"x":160,"y":162,"n":55},{"x":170,"y":162,"n":18},{"x":180,"y":162,"n":7},{"x":190,"y":162,"n":4},{"x":200,"y":162,"n":3},{"x":210,"y":162,"n":2},{"x":220,"y":162,"n":1},{"x":230,"y":162,"n":1},
      {"x":5,"y":171,"n":1},{"x":45,"y":171,"n":1},{"x":55,"y":171,"n":2},{"x":65,"y":171,"n":3},{"x":75,"y":171,"n":5},{"x":85,"y":171,"n":8},{"x":95,"y":171,"n":12},{"x":105,"y":171,"n":18},{"x":115,"y":171,"n":28},{"x":125,"y":171,"n":45},{"x":135,"y":171,"n":80},{"x":145,"y":171,"n":150},{"x":155,"y":171,"n":250},{"x":165,"y":171,"n":90},{"x":175,"y":171,"n":20},{"x":185,"y":171,"n":8},{"x":195,"y":171,"n":5},{"x":205,"y":171,"n":4},{"x":215,"y":171,"n":2},{"x":225,"y":171,"n":2},{"x":235,"y":171,"n":1},{"x":245,"y":171,"n":1},
      {"x":30,"y":180,"n":1},{"x":40,"y":180,"n":1},{"x":50,"y":180,"n":1},{"x":60,"y":180,"n":1},{"x":70,"y":180,"n":1},{"x":80,"y":180,"n":2},{"x":90,"y":180,"n":4},{"x":100,"y":180,"n":6},{"x":110,"y":180,"n":10},{"x":120,"y":180,"n":14},{"x":130,"y":180,"n":22},{"x":140,"y":180,"n":35},{"x":150,"y":180,"n":60},{"x":160,"y":180,"n":80},{"x":170,"y":180,"n":30},{"x":180,"y":180,"n":8},{"x":190,"y":180,"n":4},{"x":200,"y":180,"n":3},{"x":210,"y":180,"n":2},{"x":220,"y":180,"n":2},{"x":230,"y":180,"n":2},{"x":240,"y":180,"n":1},{"x":250,"y":180,"n":1},
      {"x":45,"y":189,"n":1},{"x":85,"y":189,"n":1},{"x":95,"y":189,"n":1},{"x":105,"y":189,"n":1},{"x":115,"y":189,"n":2},{"x":125,"y":189,"n":3},{"x":135,"y":189,"n":4},{"x":145,"y":189,"n":6},{"x":155,"y":189,"n":12},{"x":165,"y":189,"n":12},{"x":175,"y":189,"n":4},{"x":185,"y":189,"n":2},{"x":215,"y":189,"n":1},{"x":255,"y":189,"n":1},
      {"x":150,"y":198,"n":1},{"x":170,"y":198,"n":3},{"x":180,"y":198,"n":1}
    ],
    "e": [
      {"x":0,"y":0,"n":40},{"x":10,"y":0,"n":20},{"x":20,"y":0,"n":3},{"x":30,"y":0,"n":1},
      {"x":5,"y":9,"n":50},{"x":15,"y":9,"n":30},{"x":25,"y":9,"n":4},{"x":35,"y":9,"n":1},
      {"x":0,"y":18,"n":5},{"x":10,"y":18,"n":25},{"x":20,"y":18,"n":45},{"x":30,"y":18,"n":15},{"x":40,"y":18,"n":2},
      {"x":5,"y":27,"n":5},{"x":15,"y":27,"n":18},{"x":25,"y":27,"n":45},{"x":35,"y":27,"n":50},{"x":45,"y":27,"n":8},{"x":55,"y":27,"n":3},{"x":65,"y":27,"n":1},
      {"x":0,"y":36,"n":2},{"x":10,"y":36,"n":4},{"x":20,"y":36,"n":15},{"x":30,"y":36,"n":50},{"x":40,"y":36,"n":45},{"x":50,"y":36,"n":12},{"x":60,"y":36,"n":4},{"x":70,"y":36,"n":2},{"x":80,"y":36,"n":1},
      {"x":5,"y":45,"n":2},{"x":15,"y":45,"n":4},{"x":25,"y":45,"n":15},{"x":35,"y":45,"n":60},{"x":45,"y":45,"n":70},{"x":55,"y":45,"n":20},{"x":65,"y":45,"n":6},{"x":75,"y":45,"n":3},{"x":85,"y":45,"n":1},
      {"x":0,"y":54,"n":1},{"x":10,"y":54,"n":3},{"x":20,"y":54,"n":6},{"x":30,"y":54,"n":14},{"x":40,"y":54,"n":45},{"x":50,"y":54,"n":110},{"x":60,"y":54,"n":50},{"x":70,"y":54,"n":12},{"x":80,"y":54,"n":5},{"x":90,"y":54,"n":3},{"x":100,"y":54,"n":2},{"x":110,"y":54,"n":1},{"x":130,"y":54,"n":1},
      {"x":5,"y":63,"n":2},{"x":15,"y":63,"n":3},{"x":25,"y":63,"n":6},{"x":35,"y":63,"n":14},{"x":45,"y":63,"n":40},{"x":55,"y":63,"n":150},{"x":65,"y":63,"n":90},{"x":75,"y":63,"n":20},{"x":85,"y":63,"n":6},{"x":95,"y":63,"n":3},{"x":105,"y":63,"n":2},{"x":115,"y":63,"n":1},{"x":135,"y":63,"n":1},
      {"x":0,"y":72,"n":1},{"x":10,"y":72,"n":3},{"x":20,"y":72,"n":4},{"x":30,"y":72,"n":8},{"x":40,"y":72,"n":15},{"x":50,"y":72,"n":40},{"x":60,"y":72,"n":160},{"x":70,"y":72,"n":180},{"x":80,"y":72,"n":35},{"x":90,"y":72,"n":8},{"x":100,"y":72,"n":4},{"x":110,"y":72,"n":2},{"x":120,"y":72,"n":2},{"x":130,"y":72,"n":1},{"x":140,"y":72,"n":1},
      {"x":5,"y":81,"n":1},{"x":15,"y":81,"n":2},{"x":25,"y":81,"n":4},{"x":35,"y":81,"n":9},{"x":45,"y":81,"n":14},{"x":55,"y":81,"n":30},{"x":65,"y":81,"n":90},{"x":75,"y":81,"n":240},{"x":85,"y":81,"n":70},{"x":95,"y":81,"n":15},{"x":105,"y":81,"n":6},{"x":115,"y":81,"n":3},{"x":125,"y":81,"n":2},{"x":135,"y":81,"n":1},{"x":145,"y":81,"n":1},
      {"x":0,"y":90,"n":2},{"x":10,"y":90,"n":1},{"x":20,"y":90,"n":3},{"x":30,"y":90,"n":5},{"x":40,"y":90,"n":8},{"x":50,"y":90,"n":14},{"x":60,"y":90,"n":25},{"x":70,"y":90,"n":60},{"x":80,"y":90,"n":180},{"x":90,"y":90,"n":120},{"x":100,"y":90,"n":25},{"x":110,"y":90,"n":8},{"x":120,"y":90,"n":5},{"x":130,"y":90,"n":5},{"x":140,"y":90,"n":3},{"x":150,"y":90,"n":3},{"x":160,"y":90,"n":2},{"x":170,"y":90,"n":2},
      {"x":5,"y":99,"n":1},{"x":15,"y":99,"n":1},{"x":25,"y":99,"n":2},{"x":35,"y":99,"n":4},{"x":45,"y":99,"n":8},{"x":55,"y":99,"n":14},{"x":65,"y":99,"n":22},{"x":75,"y":99,"n":45},{"x":85,"y":99,"n":130},{"x":95,"y":99,"n":200},{"x":105,"y":99,"n":40},{"x":115,"y":99,"n":10},{"x":125,"y":99,"n":4},{"x":135,"y":99,"n":4},{"x":145,"y":99,"n":3},{"x":155,"y":99,"n":3},{"x":165,"y":99,"n":2},{"x":175,"y":99,"n":2},
      {"x":0,"y":108,"n":1},{"x":10,"y":108,"n":1},{"x":20,"y":108,"n":2},{"x":30,"y":108,"n":2},{"x":40,"y":108,"n":4},{"x":50,"y":108,"n":7},{"x":60,"y":108,"n":12},{"x":70,"y":108,"n":20},{"x":80,"y":108,"n":35},{"x":90,"y":108,"n":70},{"x":100,"y":108,"n":160},{"x":110,"y":108,"n":80},{"x":120,"y":108,"n":18},{"x":130,"y":108,"n":5},{"x":140,"y":108,"n":3},{"x":150,"y":108,"n":3},{"x":160,"y":108,"n":2},{"x":170,"y":108,"n":2},{"x":180,"y":108,"n":3},{"x":190,"y":108,"n":1},
      {"x":5,"y":117,"n":1},{"x":15,"y":117,"n":2},{"x":25,"y":117,"n":1},{"x":35,"y":117,"n":2},{"x":45,"y":117,"n":3},{"x":55,"y":117,"n":6},{"x":65,"y":117,"n":10},{"x":75,"y":117,"n":18},{"x":85,"y":117,"n":30},{"x":95,"y":117,"n":55},{"x":105,"y":117,"n":110},{"x":115,"y":117,"n":90},{"x":125,"y":117,"n":25},{"x":135,"y":117,"n":5},{"x":145,"y":117,"n":3},{"x":155,"y":117,"n":2},{"x":165,"y":117,"n":3},{"x":175,"y":117,"n":4},{"x":185,"y":117,"n":2},{"x":195,"y":117,"n":1},{"x":215,"y":117,"n":1},
      {"x":10,"y":126,"n":1},{"x":20,"y":126,"n":2},{"x":30,"y":126,"n":1},{"x":40,"y":126,"n":1},{"x":50,"y":126,"n":3},{"x":60,"y":126,"n":6},{"x":70,"y":126,"n":10},{"x":80,"y":126,"n":16},{"x":90,"y":126,"n":25},{"x":100,"y":126,"n":40},{"x":110,"y":126,"n":70},{"x":120,"y":126,"n":40},{"x":130,"y":126,"n":8},{"x":140,"y":126,"n":3},{"x":150,"y":126,"n":2},{"x":160,"y":126,"n":2},{"x":170,"y":126,"n":2},{"x":180,"y":126,"n":1},{"x":190,"y":126,"n":2},{"x":200,"y":126,"n":1},{"x":220,"y":126,"n":1},
      {"x":5,"y":135,"n":3},{"x":15,"y":135,"n":1},{"x":45,"y":135,"n":1},{"x":55,"y":135,"n":2},{"x":65,"y":135,"n":3},{"x":75,"y":135,"n":4},{"x":85,"y":135,"n":6},{"x":95,"y":135,"n":10},{"x":105,"y":135,"n":14},{"x":115,"y":135,"n":22},{"x":125,"y":135,"n":25},{"x":135,"y":135,"n":8},{"x":145,"y":135,"n":2},{"x":155,"y":135,"n":1},{"x":165,"y":135,"n":1},{"x":185,"y":135,"n":1},{"x":195,"y":135,"n":2},{"x":205,"y":135,"n":3},{"x":215,"y":135,"n":1},
      {"x":0,"y":144,"n":1},{"x":40,"y":144,"n":1},{"x":60,"y":144,"n":1},{"x":70,"y":144,"n":2},{"x":80,"y":144,"n":2},{"x":90,"y":144,"n":4},{"x":100,"y":144,"n":5},{"x":110,"y":144,"n":8},{"x":120,"y":144,"n":12},{"x":130,"y":144,"n":9},{"x":140,"y":144,"n":3},{"x":150,"y":144,"n":1},{"x":160,"y":144,"n":1},{"x":170,"y":144,"n":1},{"x":190,"y":144,"n":1},{"x":200,"y":144,"n":1},{"x":220,"y":144,"n":1},{"x":230,"y":144,"n":1},
      {"x":35,"y":153,"n":1},{"x":65,"y":153,"n":1},{"x":75,"y":153,"n":1},{"x":85,"y":153,"n":2},{"x":95,"y":153,"n":4},{"x":105,"y":153,"n":3},{"x":115,"y":153,"n":4},{"x":125,"y":153,"n":4},{"x":135,"y":153,"n":2},{"x":145,"y":153,"n":1},{"x":165,"y":153,"n":1},
      {"x":50,"y":162,"n":1},{"x":60,"y":162,"n":1},{"x":80,"y":162,"n":1},{"x":90,"y":162,"n":2},{"x":100,"y":162,"n":2},{"x":110,"y":162,"n":2},{"x":120,"y":162,"n":3},{"x":130,"y":162,"n":2},{"x":140,"y":162,"n":3},{"x":150,"y":162,"n":1},
      {"x":65,"y":171,"n":1},{"x":85,"y":171,"n":1},{"x":95,"y":171,"n":2},{"x":115,"y":171,"n":2},{"x":125,"y":171,"n":2},{"x":135,"y":171,"n":1},{"x":145,"y":171,"n":1},
      {"x":70,"y":180,"n":1},{"x":90,"y":180,"n":1},{"x":110,"y":180,"n":1},{"x":130,"y":180,"n":1},{"x":150,"y":180,"n":1},{"x":160,"y":180,"n":1},
      {"x":115,"y":189,"n":1},{"x":125,"y":189,"n":1},{"x":155,"y":189,"n":1}
    ]
  },
  "spacing": 9,
  "center": true,
  "resolve": {"scale": {"color": "independent"}, "legend": {"color": "independent"}},
  "vconcat": [
    {
      "width": 1430, "height": 1075,
      "layer": [
        {"data": {"name": "a"},
         "mark": {"type": "point", "shape": "M0,-0.9L1,-0.45L1,0.45L0,0.9L-1,0.45L-1,-0.45Z", "filled": true, "size": 3136, "opacity": 1, "strokeWidth": 0, "clip": true},
         "encoding": {
           "x": {"field": "x", "type": "quantitative", "scale": {"domain": [0, 260], "nice": false, "zero": false}, "axis": {"values": [0, 50, 100, 150, 200, 250], "title": "In-situ PAR\u00a0\u00a0(W m⁻²)"}},
           "y": {"field": "y", "type": "quantitative", "scale": {"domain": [0, 260], "nice": false, "zero": false}, "axis": {"values": [0, 50, 100, 150, 200, 250], "title": "Sentinel-2 PAR\u00a0\u00a0(W m⁻²)"}},
           "color": {"field": "n", "type": "quantitative", "scale": {"type": "log", "domain": [1, 1000]}, "legend": {"title": null, "values": [1, 10, 100, 1000], "labelOffset": 36, "labelBaseline": "middle", "labelExpr": "datum.value == 1 ? '10⁰' : datum.value == 10 ? '10¹' : datum.value == 100 ? '10²' : '10³'"}}
         }},
        {"data": {"values": [{}]}, "mark": {"type": "rule", "color": "#555555", "strokeWidth": 4, "strokeDash": [14, 8]},
         "encoding": {"x": {"datum": 0}, "y": {"datum": 0}, "x2": {"datum": 260}, "y2": {"datum": 260}}},
        {"data": {"values": [{}]}, "mark": {"type": "rect", "fill": "#f4f4f4", "stroke": "#cccccc", "strokeWidth": 5, "cornerRadius": 22},
         "encoding": {"x": {"datum": 157.1}, "x2": {"datum": 255.6}, "y": {"datum": 2.9}, "y2": {"datum": 73.7}}},
        {"data": {"values": [{}]}, "mark": {"type": "text", "text": ["bias = +13.78", "mae\u00a0\u00a0= 18.36", "rmse = 25.59", "r\u00a0\u00a0\u00a0\u00a0= 0.88"], "font": "DejaVu Sans Mono", "fontSize": 58, "lineHeight": 68, "align": "right", "baseline": "alphabetic", "color": "#111111"},
         "encoding": {"x": {"datum": 251.8}, "y": {"datum": 59.9}}},
        {"data": {"values": [{}]}, "mark": {"type": "text", "text": "All seasons", "fontWeight": "bold", "fontSize": 64, "align": "center", "baseline": "alphabetic", "color": "#111111"},
         "encoding": {"x": {"datum": 130}, "y": {"datum": 266.8}}},
        {"data": {"values": [{}]}, "mark": {"type": "text", "text": "(a)", "fontWeight": "bold", "fontSize": 58, "align": "center", "baseline": "middle", "color": "#111111"},
         "encoding": {"x": {"datum": -19}, "y": {"datum": -23}}},
        {"data": {"name": "cbmaj"}, "mark": {"type": "rule", "color": "#333333", "strokeWidth": 3},
         "encoding": {"x": {"datum": 281.4}, "x2": {"datum": 284.5}, "y": {"field": "y", "type": "quantitative", "axis": {"values": [0, 50, 100, 150, 200, 250], "title": "Sentinel-2 PAR\u00a0\u00a0(W m⁻²)"}}}},
        {"data": {"name": "cbmin"}, "mark": {"type": "rule", "color": "#333333", "strokeWidth": 2.5},
         "encoding": {"x": {"datum": 281.4}, "x2": {"datum": 283.1}, "y": {"field": "y", "type": "quantitative", "axis": {"values": [0, 50, 100, 150, 200, 250], "title": "Sentinel-2 PAR\u00a0\u00a0(W m⁻²)"}}}}
      ]
    },
    {
      "hconcat": [
        {
          "width": 1430, "height": 1075,
          "layer": [
            {"data": {"name": "b"},
             "mark": {"type": "point", "shape": "M0,-0.9L1,-0.45L1,0.45L0,0.9L-1,0.45L-1,-0.45Z", "filled": true, "size": 3136, "opacity": 1, "strokeWidth": 0, "clip": true},
             "encoding": {
               "x": {"field": "x", "type": "quantitative", "scale": {"domain": [0, 260], "nice": false, "zero": false}, "axis": {"values": [0, 50, 100, 150, 200, 250], "title": null}},
               "y": {"field": "y", "type": "quantitative", "scale": {"domain": [0, 260], "nice": false, "zero": false}, "axis": {"values": [0, 50, 100, 150, 200, 250], "title": "Sentinel-2 PAR\u00a0\u00a0(W m⁻²)"}},
               "color": {"field": "n", "type": "quantitative", "scale": {"type": "log", "domain": [1, 1000]}, "legend": {"title": null, "values": [1, 10, 100, 1000], "labelOffset": 36, "labelBaseline": "middle", "labelExpr": "datum.value == 1 ? '10⁰' : datum.value == 10 ? '10¹' : datum.value == 100 ? '10²' : '10³'"}}
             }},
            {"data": {"values": [{}]}, "mark": {"type": "rule", "color": "#555555", "strokeWidth": 4, "strokeDash": [14, 8]},
             "encoding": {"x": {"datum": 0}, "y": {"datum": 0}, "x2": {"datum": 260}, "y2": {"datum": 260}}},
            {"data": {"values": [{}]}, "mark": {"type": "rect", "fill": "#f4f4f4", "stroke": "#cccccc", "strokeWidth": 5, "cornerRadius": 22},
             "encoding": {"x": {"datum": 170.9}, "x2": {"datum": 256.7}, "y": {"datum": 3.1}, "y2": {"datum": 69.2}}},
            {"data": {"values": [{}]}, "mark": {"type": "text", "text": ["bias = +7.69", "mae\u00a0\u00a0= 10.65", "rmse = 15.80", "r\u00a0\u00a0\u00a0\u00a0= 0.87"], "font": "DejaVu Sans Mono", "fontSize": 55, "lineHeight": 64, "align": "right", "baseline": "alphabetic", "color": "#111111"},
             "encoding": {"x": {"datum": 251.6}, "y": {"datum": 56.1}}},
            {"data": {"values": [{}]}, "mark": {"type": "text", "text": "Winter (DJF)", "fontWeight": "bold", "fontSize": 64, "align": "center", "baseline": "alphabetic", "color": "#111111"},
             "encoding": {"x": {"datum": 130}, "y": {"datum": 265}}},
            {"data": {"values": [{}]}, "mark": {"type": "text", "text": "(b)", "fontWeight": "bold", "fontSize": 58, "align": "center", "baseline": "middle", "color": "#111111"},
             "encoding": {"x": {"datum": -19}, "y": {"datum": -23}}},
            {"data": {"values": [{}]}, "mark": {"type": "rule", "color": "#6e8080", "strokeWidth": 5, "strokeDash": [21, 14]},
             "encoding": {"x": {"datum": -48.7}, "x2": {"datum": 313.5}, "y": {"datum": 282.5}}},
            {"data": {"name": "cbmaj"}, "mark": {"type": "rule", "color": "#333333", "strokeWidth": 3},
             "encoding": {"x": {"datum": 281.4}, "x2": {"datum": 284.5}, "y": {"field": "y", "type": "quantitative", "axis": {"values": [0, 50, 100, 150, 200, 250], "title": "Sentinel-2 PAR\u00a0\u00a0(W m⁻²)"}}}},
            {"data": {"name": "cbmin"}, "mark": {"type": "rule", "color": "#333333", "strokeWidth": 2.5},
             "encoding": {"x": {"datum": 281.4}, "x2": {"datum": 283.1}, "y": {"field": "y", "type": "quantitative", "axis": {"values": [0, 50, 100, 150, 200, 250], "title": "Sentinel-2 PAR\u00a0\u00a0(W m⁻²)"}}}}
          ]
        },
        {
          "width": 1430, "height": 1075,
          "layer": [
            {"data": {"name": "c"},
             "mark": {"type": "point", "shape": "M0,-0.9L1,-0.45L1,0.45L0,0.9L-1,0.45L-1,-0.45Z", "filled": true, "size": 3136, "opacity": 1, "strokeWidth": 0, "clip": true},
             "encoding": {
               "x": {"field": "x", "type": "quantitative", "scale": {"domain": [0, 260], "nice": false, "zero": false}, "axis": {"values": [0, 50, 100, 150, 200, 250], "title": null}},
               "y": {"field": "y", "type": "quantitative", "scale": {"domain": [0, 260], "nice": false, "zero": false}, "axis": {"values": [0, 50, 100, 150, 200, 250], "title": null}},
               "color": {"field": "n", "type": "quantitative", "scale": {"type": "log", "domain": [1, 1000]}, "legend": {"title": null, "values": [1, 10, 100, 1000], "labelOffset": 36, "labelBaseline": "middle", "labelExpr": "datum.value == 1 ? '10⁰' : datum.value == 10 ? '10¹' : datum.value == 100 ? '10²' : '10³'"}}
             }},
            {"data": {"values": [{}]}, "mark": {"type": "rule", "color": "#555555", "strokeWidth": 4, "strokeDash": [14, 8]},
             "encoding": {"x": {"datum": 0}, "y": {"datum": 0}, "x2": {"datum": 260}, "y2": {"datum": 260}}},
            {"data": {"values": [{}]}, "mark": {"type": "rect", "fill": "#f4f4f4", "stroke": "#cccccc", "strokeWidth": 5, "cornerRadius": 22},
             "encoding": {"x": {"datum": 164.7}, "x2": {"datum": 256.6}, "y": {"datum": 3.3}, "y2": {"datum": 69.2}}},
            {"data": {"values": [{}]}, "mark": {"type": "text", "text": ["bias = +15.73", "mae\u00a0\u00a0= 21.36", "rmse = 28.02", "r\u00a0\u00a0\u00a0\u00a0= 0.79"], "font": "DejaVu Sans Mono", "fontSize": 55, "lineHeight": 64, "align": "right", "baseline": "alphabetic", "color": "#111111"},
             "encoding": {"x": {"datum": 251.6}, "y": {"datum": 56.5}}},
            {"data": {"values": [{}]}, "mark": {"type": "text", "text": "Spring (MAM)", "fontWeight": "bold", "fontSize": 64, "align": "center", "baseline": "alphabetic", "color": "#111111"},
             "encoding": {"x": {"datum": 130}, "y": {"datum": 265}}},
            {"data": {"values": [{}]}, "mark": {"type": "text", "text": "(c)", "fontWeight": "bold", "fontSize": 58, "align": "center", "baseline": "middle", "color": "#111111"},
             "encoding": {"x": {"datum": -19}, "y": {"datum": -23}}},
            {"data": {"values": [{}]}, "mark": {"type": "rule", "color": "#6e8080", "strokeWidth": 5, "strokeDash": [21, 14]},
             "encoding": {"x": {"datum": -32.5}, "x2": {"datum": 286.4}, "y": {"datum": 282.5}}},
            {"data": {"values": [{}]}, "mark": {"type": "rule", "color": "#6e8080", "strokeWidth": 5, "strokeDash": [21, 14]},
             "encoding": {"x": {"datum": -32.5}, "y": {"datum": 278.8}, "y2": {"datum": -30.1}}},
            {"data": {"name": "cbmaj"}, "mark": {"type": "rule", "color": "#333333", "strokeWidth": 3},
             "encoding": {"x": {"datum": 281.4}, "x2": {"datum": 284.5}, "y": {"field": "y", "type": "quantitative", "axis": {"values": [0, 50, 100, 150, 200, 250], "title": null}}}},
            {"data": {"name": "cbmin"}, "mark": {"type": "rule", "color": "#333333", "strokeWidth": 2.5},
             "encoding": {"x": {"datum": 281.4}, "x2": {"datum": 283.1}, "y": {"field": "y", "type": "quantitative", "axis": {"values": [0, 50, 100, 150, 200, 250], "title": null}}}}
          ]
        }
      ],
      "spacing": 0,
      "resolve": {"scale": {"color": "independent"}, "legend": {"color": "independent"}}
    },
    {
      "hconcat": [
        {
          "width": 1430, "height": 1075,
          "layer": [
            {"data": {"name": "d"},
             "mark": {"type": "point", "shape": "M0,-0.9L1,-0.45L1,0.45L0,0.9L-1,0.45L-1,-0.45Z", "filled": true, "size": 3136, "opacity": 1, "strokeWidth": 0, "clip": true},
             "encoding": {
               "x": {"field": "x", "type": "quantitative", "scale": {"domain": [0, 260], "nice": false, "zero": false}, "axis": {"values": [0, 50, 100, 150, 200, 250], "title": "In-situ PAR\u00a0\u00a0(W m⁻²)"}},
               "y": {"field": "y", "type": "quantitative", "scale": {"domain": [0, 260], "nice": false, "zero": false}, "axis": {"values": [0, 50, 100, 150, 200, 250], "title": "Sentinel-2 PAR\u00a0\u00a0(W m⁻²)"}},
               "color": {"field": "n", "type": "quantitative", "scale": {"type": "log", "domain": [1, 1000]}, "legend": {"title": null, "values": [1, 10, 100, 1000], "labelOffset": 36, "labelBaseline": "middle", "labelExpr": "datum.value == 1 ? '10⁰' : datum.value == 10 ? '10¹' : datum.value == 100 ? '10²' : '10³'"}}
             }},
            {"data": {"values": [{}]}, "mark": {"type": "rule", "color": "#555555", "strokeWidth": 4, "strokeDash": [14, 8]},
             "encoding": {"x": {"datum": 0}, "y": {"datum": 0}, "x2": {"datum": 260}, "y2": {"datum": 260}}},
            {"data": {"values": [{}]}, "mark": {"type": "rect", "fill": "#f4f4f4", "stroke": "#cccccc", "strokeWidth": 5, "cornerRadius": 22},
             "encoding": {"x": {"datum": 164.7}, "x2": {"datum": 256.4}, "y": {"datum": 3.9}, "y2": {"datum": 69.3}}},
            {"data": {"values": [{}]}, "mark": {"type": "text", "text": ["bias = +20.34", "mae\u00a0\u00a0= 24.97", "rmse = 32.13", "r\u00a0\u00a0\u00a0\u00a0= 0.60"], "font": "DejaVu Sans Mono", "fontSize": 55, "lineHeight": 64, "align": "right", "baseline": "alphabetic", "color": "#111111"},
             "encoding": {"x": {"datum": 251.8}, "y": {"datum": 56.2}}},
            {"data": {"values": [{}]}, "mark": {"type": "text", "text": "Summer (JJA)", "fontWeight": "bold", "fontSize": 64, "align": "center", "baseline": "alphabetic", "color": "#111111"},
             "encoding": {"x": {"datum": 130}, "y": {"datum": 265.7}}},
            {"data": {"values": [{}]}, "mark": {"type": "text", "text": "(d)", "fontWeight": "bold", "fontSize": 58, "align": "center", "baseline": "middle", "color": "#111111"},
             "encoding": {"x": {"datum": -19}, "y": {"datum": -23}}},
            {"data": {"values": [{}]}, "mark": {"type": "rule", "color": "#6e8080", "strokeWidth": 5, "strokeDash": [21, 14]},
             "encoding": {"x": {"datum": -48.7}, "x2": {"datum": 313.5}, "y": {"datum": 292.6}}},
            {"data": {"name": "cbmaj"}, "mark": {"type": "rule", "color": "#333333", "strokeWidth": 3},
             "encoding": {"x": {"datum": 281.4}, "x2": {"datum": 284.5}, "y": {"field": "y", "type": "quantitative", "axis": {"values": [0, 50, 100, 150, 200, 250], "title": "Sentinel-2 PAR\u00a0\u00a0(W m⁻²)"}}}},
            {"data": {"name": "cbmin"}, "mark": {"type": "rule", "color": "#333333", "strokeWidth": 2.5},
             "encoding": {"x": {"datum": 281.4}, "x2": {"datum": 283.1}, "y": {"field": "y", "type": "quantitative", "axis": {"values": [0, 50, 100, 150, 200, 250], "title": "Sentinel-2 PAR\u00a0\u00a0(W m⁻²)"}}}}
          ]
        },
        {
          "width": 1430, "height": 1075,
          "layer": [
            {"data": {"name": "e"},
             "mark": {"type": "point", "shape": "M0,-0.9L1,-0.45L1,0.45L0,0.9L-1,0.45L-1,-0.45Z", "filled": true, "size": 3136, "opacity": 1, "strokeWidth": 0, "clip": true},
             "encoding": {
               "x": {"field": "x", "type": "quantitative", "scale": {"domain": [0, 260], "nice": false, "zero": false}, "axis": {"values": [0, 50, 100, 150, 200, 250], "title": "In-situ PAR\u00a0\u00a0(W m⁻²)"}},
               "y": {"field": "y", "type": "quantitative", "scale": {"domain": [0, 260], "nice": false, "zero": false}, "axis": {"values": [0, 50, 100, 150, 200, 250], "title": null}},
               "color": {"field": "n", "type": "quantitative", "scale": {"type": "log", "domain": [1, 1000]}, "legend": {"title": null, "values": [1, 10, 100, 1000], "labelOffset": 36, "labelBaseline": "middle", "labelExpr": "datum.value == 1 ? '10⁰' : datum.value == 10 ? '10¹' : datum.value == 100 ? '10²' : '10³'"}}
             }},
            {"data": {"values": [{}]}, "mark": {"type": "rule", "color": "#555555", "strokeWidth": 4, "strokeDash": [14, 8]},
             "encoding": {"x": {"datum": 0}, "y": {"datum": 0}, "x2": {"datum": 260}, "y2": {"datum": 260}}},
            {"data": {"values": [{}]}, "mark": {"type": "rect", "fill": "#f4f4f4", "stroke": "#cccccc", "strokeWidth": 5, "cornerRadius": 22},
             "encoding": {"x": {"datum": 170.9}, "x2": {"datum": 256.6}, "y": {"datum": 3.3}, "y2": {"datum": 69.3}}},
            {"data": {"values": [{}]}, "mark": {"type": "text", "text": ["bias = +7.96", "mae\u00a0\u00a0= 12.49", "rmse = 18.35", "r\u00a0\u00a0\u00a0\u00a0= 0.86"], "font": "DejaVu Sans Mono", "fontSize": 55, "lineHeight": 64, "align": "right", "baseline": "alphabetic", "color": "#111111"},
             "encoding": {"x": {"datum": 251.6}, "y": {"datum": 56.2}}},
            {"data": {"values": [{}]}, "mark": {"type": "text", "text": "Autumn (SON)", "fontWeight": "bold", "fontSize": 64, "align": "center", "baseline": "alphabetic", "color": "#111111"},
             "encoding": {"x": {"datum": 130}, "y": {"datum": 265.7}}},
            {"data": {"values": [{}]}, "mark": {"type": "text", "text": "(e)", "fontWeight": "bold", "fontSize": 58, "align": "center", "baseline": "middle", "color": "#111111"},
             "encoding": {"x": {"datum": -19}, "y": {"datum": -23}}},
            {"data": {"values": [{}]}, "mark": {"type": "rule", "color": "#6e8080", "strokeWidth": 5, "strokeDash": [21, 14]},
             "encoding": {"x": {"datum": -32.5}, "x2": {"datum": 286.4}, "y": {"datum": 292.6}}},
            {"data": {"values": [{}]}, "mark": {"type": "rule", "color": "#6e8080", "strokeWidth": 5, "strokeDash": [21, 14]},
             "encoding": {"x": {"datum": -32.5}, "y": {"datum": 292.6}, "y2": {"datum": -19.4}}},
            {"data": {"name": "cbmaj"}, "mark": {"type": "rule", "color": "#333333", "strokeWidth": 3},
             "encoding": {"x": {"datum": 281.4}, "x2": {"datum": 284.5}, "y": {"field": "y", "type": "quantitative", "axis": {"values": [0, 50, 100, 150, 200, 250], "title": null}}}},
            {"data": {"name": "cbmin"}, "mark": {"type": "rule", "color": "#333333", "strokeWidth": 2.5},
             "encoding": {"x": {"datum": 281.4}, "x2": {"datum": 283.1}, "y": {"field": "y", "type": "quantitative", "axis": {"values": [0, 50, 100, 150, 200, 250], "title": null}}}}
          ]
        }
      ],
      "spacing": 0,
      "resolve": {"scale": {"color": "independent"}, "legend": {"color": "independent"}}
    }
  ]
}
